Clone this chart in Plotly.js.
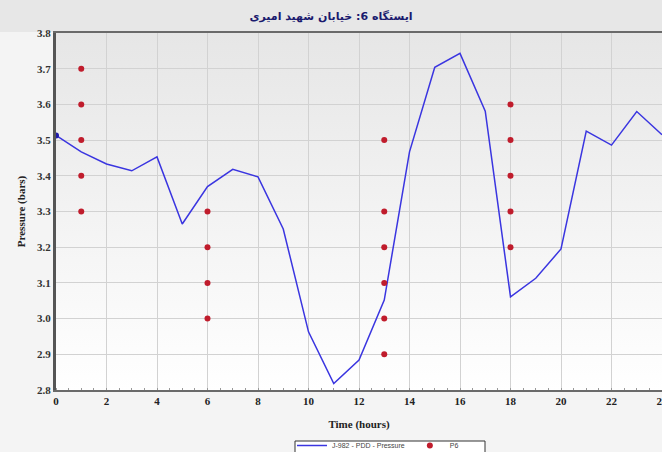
<!DOCTYPE html>
<html>
<head>
<meta charset="utf-8">
<script src="https://cdn.plot.ly/plotly-3.0.1.min.js"></script>
<style>
html,body{margin:0;padding:0;background:#ffffff;}
#wrap{position:relative;width:662px;height:452px;background:#f4f4f4;overflow:hidden;}
#band{position:absolute;left:0;top:0;width:662px;height:32px;background:#e7e7e7;}
#pbg{position:absolute;left:56px;top:33px;width:606px;height:357px;background:linear-gradient(to bottom,#e6e6e6,#ffffff);}
#chart{position:absolute;left:0;top:0;width:662px;height:480px;}
</style>
</head>
<body>
<div id="wrap">
<div id="band"></div>
<div id="pbg"></div>
<div id="chart"></div>
</div>
<script>
// Data
const hours = [0,1,2,3,4,5,6,7,8,9,10,11,12,13,14,15,16,17,18,19,20,21,22,23,24];
const pressure = [3.513,3.467,3.433,3.414,3.453,3.265,3.370,3.418,3.397,3.251,2.963,2.818,2.884,3.052,3.467,3.704,3.743,3.581,3.061,3.113,3.195,3.525,3.486,3.580,3.515];
const p6Hours = [1,1,1,1,1, 6,6,6,6, 13,13,13,13,13,13, 18,18,18,18,18];
const p6Values = [3.3,3.4,3.5,3.6,3.7, 3.0,3.1,3.2,3.3, 2.9,3.0,3.1,3.2,3.3,3.5, 3.2,3.3,3.4,3.5,3.6];
const xTicks = [0,2,4,6,8,10,12,14,16,18,20,22,24];
const yTicks = [2.8,2.9,3.0,3.1,3.2,3.3,3.4,3.5,3.6,3.7,3.8];
const titleText = 'ایستگاه 6: خیابان شهید امیری';
const lineName = 'J-982 - PDD - Pressure';
const dotName = 'P6';

const traces = [
  {x: hours, y: pressure, type:'scatter', mode:'lines', name: lineName,
   line:{color:'#3a35e0', width:1.5}, cliponaxis:false},
  {x: hours.slice(0,1), y: pressure.slice(0,1), type:'scatter', mode:'markers', showlegend:false,
   marker:{color:'#1f1aa8', size:6}, cliponaxis:false},
  {x: p6Hours, y: p6Values, type:'scatter', mode:'markers', name: dotName,
   marker:{color:'#c01c2c', size:6}}
];

const serif = 'Liberation Serif, Times New Roman, serif';
const H = 480;
const PH = 357;
const layout = {
  width:662, height:H,
  margin:{l:56, r:0, t:33, b:H-390},
  paper_bgcolor:'rgba(0,0,0,0)',
  plot_bgcolor:'rgba(0,0,0,0)',
  title:{text:'<b>'+titleText+'</b>', x:0.5, xanchor:'center', y:1-16/H, yanchor:'middle',
         font:{family:'DejaVu Sans', size:11, color:'#1a1a6e'}},
  xaxis:{range:[0,24], tickvals:xTicks, ticktext:xTicks.map(v=>'<b>'+v+'</b>'),
         ticklabeloverflow:'allow',
         showgrid:true, gridcolor:'#d2d2d2', gridwidth:1,
         zeroline:false, showline:true, linecolor:'#6a6a6a', linewidth:2, mirror:true,
         ticks:'', tickfont:{family:serif, size:11, color:'#222'},
         minor:{ticks:'inside', ticklen:2, dtick:0.5, tickcolor:'#999', showgrid:false},
         title:{text:'<b>Time (hours)</b>', font:{family:serif, size:11, color:'#222'}, standoff:14}},
  yaxis:{range:[2.8,3.8], tickvals:yTicks, ticktext:yTicks.map(v=>'<b>'+v.toFixed(1)+'</b>'),
         showgrid:true, gridcolor:'#d2d2d2', gridwidth:1,
         zeroline:false, showline:true, linecolor:'#555', linewidth:3,
         ticks:'', tickfont:{family:serif, size:11, color:'#333'},
         title:{text:'<b>Pressure (bars)</b>', font:{family:serif, size:11, color:'#222'}, standoff:10}},
  shapes:[{type:'rect', xref:'paper', yref:'paper', layer:'above',
           x0:(295-56)/606, x1:(485-56)/606, y0:(390-441)/PH, y1:(390-475)/PH,
           fillcolor:'#ffffff', line:{color:'#333', width:1}}],
  showlegend:true,
  legend:{orientation:'h', x:(292-56)/606, xanchor:'left', y:-41/PH, yanchor:'top',
          bgcolor:'rgba(0,0,0,0)', borderwidth:0,
          font:{family:'Liberation Sans', size:7, color:'#444'}, itemwidth:30}
};

Plotly.newPlot('chart', traces, layout, {displayModeBar:false, staticPlot:true});
</script>
</body>
</html>
